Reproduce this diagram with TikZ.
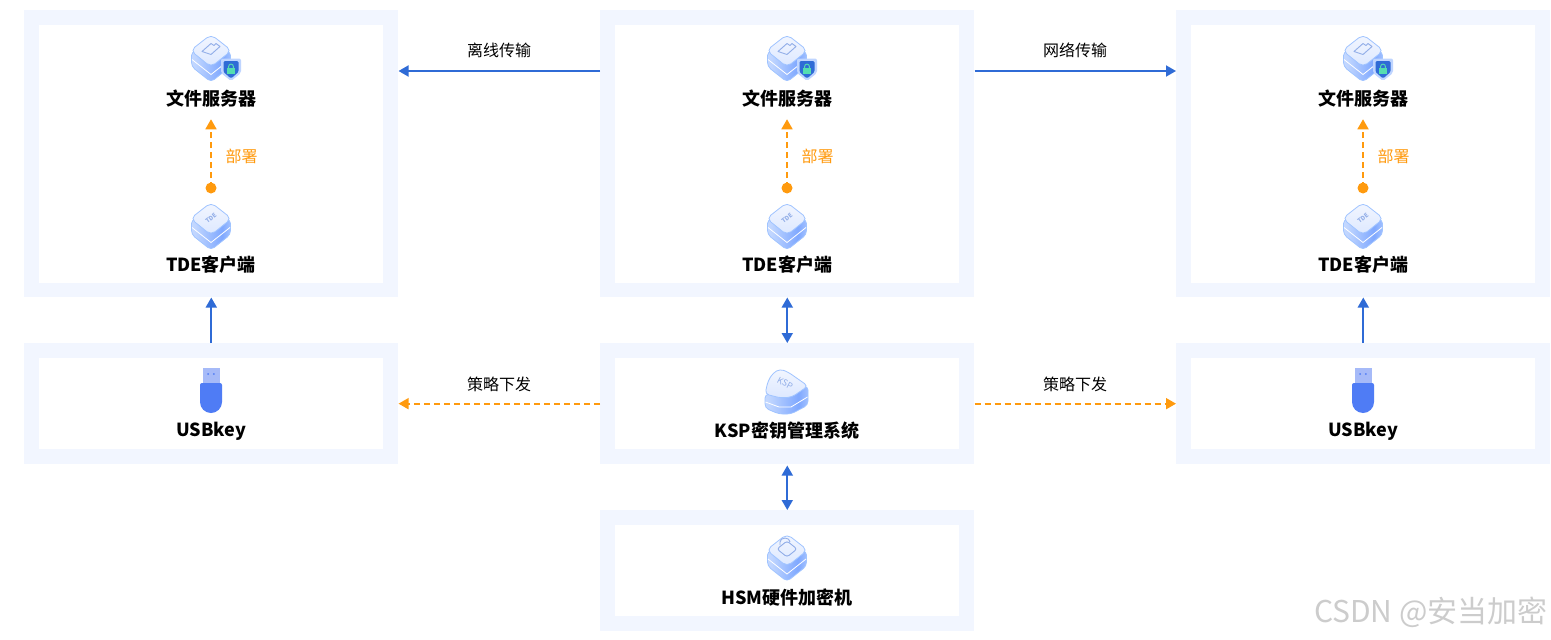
\documentclass[tikz,border=0pt]{standalone}
\usepackage{fontspec}
\setmainfont{Noto Sans CJK SC}
\usetikzlibrary{arrows.meta}
\definecolor{panel}{HTML}{F2F6FF}
\definecolor{lineblue}{HTML}{2F6BD6}
\definecolor{lineorange}{HTML}{FF9A0E}
\definecolor{iconedge}{HTML}{A0C4FF}
\definecolor{iconlight}{HTML}{F2F6FF}
\definecolor{iconmid}{HTML}{BFD5FF}
\definecolor{icontop}{HTML}{DDE8FF}
\definecolor{iconpale}{HTML}{E0EBFF}
\definecolor{icondeep}{HTML}{7FA8FF}
\definecolor{glyph}{HTML}{92AEE8}
\definecolor{UsbBlue}{HTML}{4F7CF5}
\definecolor{HeadBlue}{HTML}{A6BAF8}
\definecolor{lockgreen}{HTML}{54DDB0}
\pgfdeclarehorizontalshading{cubeband}{100bp}{color(0bp)=(iconpale); color(30bp)=(iconmid); color(64bp)=(icondeep); color(84bp)=(iconmid); color(100bp)=(iconpale)}
\tikzset{
  outerbox/.style={fill=panel,draw=none,anchor=north west,inner sep=0pt,minimum width=280.5pt},
  innerbox/.style={fill=white,draw=none,anchor=north west,inner sep=0pt,minimum width=258pt},
  title/.style={font=\bfseries\fontsize{13.5pt}{15pt}\selectfont,inner sep=0pt,minimum height=30pt,text=black},
  label/.style={font=\fontsize{12pt}{14pt}\selectfont,inner sep=0pt,text=black},
  orangelabel/.style={label,text=lineorange},
  bluearrow/.style={draw=lineblue,line width=1.35pt,-{Triangle[length=7.5pt,width=8.25pt]}},
  bluedouble/.style={draw=lineblue,line width=1.35pt,{Triangle[length=7.5pt,width=8.25pt]}-{Triangle[length=7.5pt,width=8.25pt]}},
  orangearrow/.style={draw=lineorange,line width=1.25pt,dash pattern=on 4.5pt off 3pt,-{Triangle[length=7.5pt,width=8.25pt]}},
  orangedot/.style={circle,fill=lineorange,draw=none,inner sep=0pt,minimum size=8.25pt},
  cubeside/.style={shading=cubeband,draw=iconedge,line width=.6pt,rounded corners=3pt},
  cubetop/.style={top color=iconlight,bottom color=icontop,draw=iconedge,line width=.6pt,rounded corners=4pt},
  glyphline/.style={draw=glyph,line width=.7pt},
  pics/cube/.style={code={
    \path[cubeside] (-19.5,0) -- (-19.5,15) -- (0,30.5) -- (19.5,15) -- (19.5,0) -- cycle;
    \draw[draw=white,line width=.6pt] (-19,8) -- (0,23) -- (19,8);
    \path[cubetop] (0,-17) -- (20.5,-1) -- (0,15.5) -- (-20.5,-1) -- cycle;
  }},
  pics/foldermark/.style={code={
    \draw[glyphline,line join=round] (-9,1) -- (0,-7) -- (3,-5) -- (5,-7) -- (9,-4) -- (0,4) -- cycle;
  }},
  pics/shieldmark/.style={code={
    \fill[rounded corners=1.5pt,fill=iconmid] (-10,-10.5) -- (10,-10.5) -- (10,4) -- (0,12) -- (-10,4) -- cycle;
    \fill[rounded corners=1pt,fill=lineblue] (-7.5,-8) -- (7.5,-8) -- (7.5,3) -- (0,9.5) -- (-7.5,3) -- cycle;
    \fill[fill=lockgreen] (-4,-1) rectangle (4,5);
    \draw[draw=lockgreen,line width=.7pt] (-2.4,-1) -- (-2.4,-2.5) arc[start angle=180,end angle=360,radius=2.4] -- (2.4,-1);
  }},
  pics/usbmark/.style={code={
    \fill[fill=HeadBlue] (-8.5,-31) rectangle (8.5,-15);
    \fill[fill=UsbBlue] (-2.8,-25) circle[radius=1] (2.8,-25) circle[radius=1];
    \fill[fill=UsbBlue] (-11,-14) arc[start angle=180,end angle=270,radius=2] -- (9,-16) arc[start angle=270,end angle=360,radius=2] -- (11,3) arc[start angle=0,end angle=180,radius=11] -- cycle;
  }},
  pics/serverset/.style={code={
    \pic at (0,0) {cube};
    \pic at (0,-1) {foldermark};
    \pic at (20,17.5) {shieldmark};
  }},
  pics/tdeset/.style={code={
    \pic at (0,0) {cube};
    \node[font=\bfseries\fontsize{4.5pt}{5pt}\selectfont,text=glyph,rotate=38,inner sep=0pt] (tdetag) at (0,-1) {TDE};
  }}
}
\begin{document}
\begin{tikzpicture}[x=0.75pt,y=-0.75pt]
\useasboundingbox (0,0) rectangle (1551,639);
\fill[white] (0,0) rectangle (1551,639);
% top row panels
\node[outerbox,minimum height=215.25pt] (lefttop) at (24,10) {};
\node[outerbox,minimum height=215.25pt] (midtop) at (600,10) {};
\node[outerbox,minimum height=215.25pt] (righttop) at (1176,10) {};
\node[innerbox,minimum height=193.5pt] (lefttopin) at (39,25) {};
\node[innerbox,minimum height=193.5pt] (midtopin) at (615,25) {};
\node[innerbox,minimum height=193.5pt] (righttopin) at (1191,25) {};
% second row panels
\node[outerbox,minimum height=90.75pt] (leftusb) at (24,343) {};
\node[outerbox,minimum height=90.75pt] (ksp) at (600,343) {};
\node[outerbox,minimum height=90.75pt] (rightusb) at (1176,343) {};
\node[innerbox,minimum height=68.25pt] (leftusbin) at (39,358) {};
\node[innerbox,minimum height=68.25pt] (kspin) at (615,358) {};
\node[innerbox,minimum height=68.25pt] (rightusbin) at (1191,358) {};
% third row
\node[outerbox,minimum height=90.75pt] (hsm) at (600,510) {};
\node[innerbox,minimum height=68.25pt] (hsmin) at (615,525) {};
% icons
\pic at (211,51.5) {serverset};
\pic at (787,51.5) {serverset};
\pic at (1363,51.5) {serverset};
\pic at (211,219.5) {tdeset};
\pic at (787,219.5) {tdeset};
\pic at (1363,219.5) {tdeset};
\pic at (211,399) {usbmark};
\pic at (1363,399) {usbmark};
% KSP icon
\begin{scope}[shift={(787,391)}]
  \path[shading=cubeband,draw=iconedge,line width=.6pt,rounded corners=3pt]
    (-22,3) -- (-22,17) -- (-8,23) -- (4,23) -- (21,14) -- (21,-5) -- (0,4) -- cycle;
  \draw[draw=white,line width=.6pt] (-21.5,11) -- (-8,16) -- (4,16) -- (20.5,6);
  \path[top color=iconlight,bottom color=icontop,draw=iconedge,line width=.6pt,rounded corners=3pt]
    (-7,-22) -- (1,-19) -- (21,-5) -- (5,6) -- (-6,7) -- (-22,3) -- (-19,-10) -- (-14,-18) -- cycle;
  \node[font=\fontsize{6.5pt}{6.5pt}\selectfont\itshape,text=glyph,rotate=-28,inner sep=0pt] (ksptag) at (-2,-8) {KSP};
\end{scope}
% HSM icon
\pic at (787,551) {cube};
\draw[glyphline,rounded corners=2pt] (787,541) -- (797,549) -- (787,557) -- (777,549) -- cycle;
\draw[glyphline] (780,545) -- (780,542) arc[start angle=180,end angle=0,x radius=5,y radius=-4];
% titles
\node[title] (leftserver) at (211,99) {文件服务器};
\node[title] (midserver) at (787,99) {文件服务器};
\node[title] (rightserver) at (1363,99) {文件服务器};
\node[title] (lefttde) at (211,265) {TDE客户端};
\node[title] (midtde) at (787,265) {TDE客户端};
\node[title] (righttde) at (1363,265) {TDE客户端};
\node[title] (leftkey) at (211,431) {USBkey};
\node[title] (kspname) at (787,431) {KSP密钥管理系统};
\node[title] (rightkey) at (1363,431) {USBkey};
\node[title] (hsmname) at (787,598) {HSM硬件加密机};
% deploy connectors
\node[orangedot] (leftdot) at (211,188) {};
\node[orangedot] (middot) at (787,188) {};
\node[orangedot] (rightdot) at (1363,188) {};
\draw[orangearrow] (leftdot.center) -- (leftserver.south);
\draw[orangearrow] (middot.center) -- (midserver.south);
\draw[orangearrow] (rightdot.center) -- (rightserver.south);
\node[orangelabel] (leftdeploy) at (241.5,156) {部署};
\node[orangelabel] (middeploy) at (817.5,156) {部署};
\node[orangelabel] (rightdeploy) at (1393.5,156) {部署};
% horizontal links
\draw[bluearrow] ([yshift=-45.75pt]midtop.north west) -- ([yshift=-45.75pt]lefttop.north east);
\draw[bluearrow] ([yshift=-45.75pt]midtop.north east) -- ([yshift=-45.75pt]righttop.north west);
\draw[orangearrow] ([yshift=-45.5pt]ksp.north west) -- ([yshift=-45.5pt]leftusb.north east);
\draw[orangearrow] ([yshift=-45.5pt]ksp.north east) -- ([yshift=-45.5pt]rightusb.north west);
\node[label] (offline) at (499,50) {离线传输};
\node[label] (network) at (1075,50) {网络传输};
\node[label] (policyl) at (499,384) {策略下发};
\node[label] (policyr) at (1075,384) {策略下发};
% vertical links
\draw[bluearrow] (leftusb.north) -- (lefttop.south);
\draw[bluearrow] (rightusb.north) -- (righttop.south);
\draw[bluedouble] (midtop.south) -- (ksp.north);
\draw[bluedouble] ([yshift=-.75pt]ksp.south) -- (hsm.north);
% watermark
\node[font=\fontsize{22.5pt}{24pt}\selectfont,text=black!20,inner sep=0pt,anchor=east] (mark) at (1548,612) {CSDN @安当加密};
\end{tikzpicture}
\end{document}
